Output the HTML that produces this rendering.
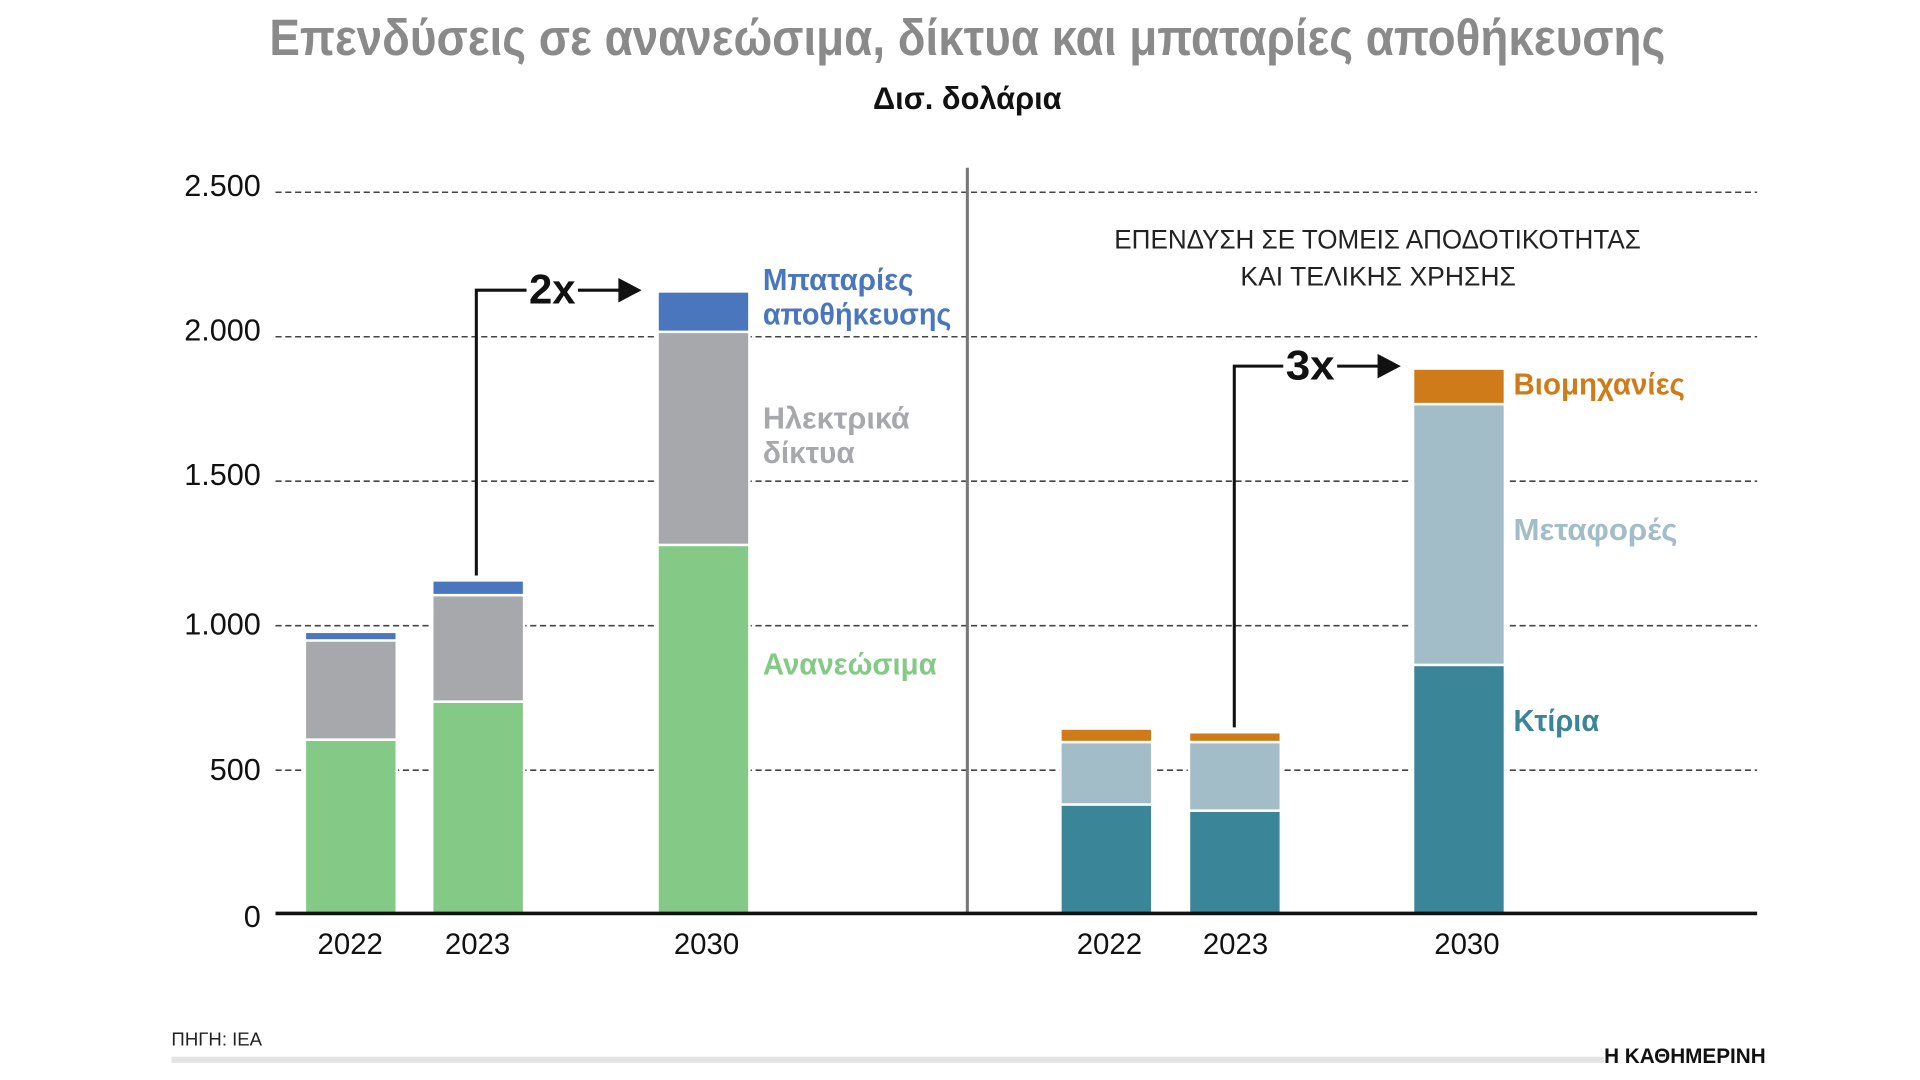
<!DOCTYPE html>
<html><head><meta charset="utf-8"><style>
html,body{margin:0;padding:0;background:#fff;}
svg{display:block}
text{font-family:"Liberation Sans Narrow","Liberation Sans","DejaVu Sans Condensed",sans-serif;}
</style></head><body>
<svg width="1920" height="1080" viewBox="0 0 1568 882" xmlns="http://www.w3.org/2000/svg">
<rect width="1568" height="882" fill="#fff"/>
<text x="220" y="45" textLength="1140" lengthAdjust="spacingAndGlyphs" font-size="42" font-weight="bold" fill="#8a8a8a">Επενδύσεις σε ανανεώσιμα, δίκτυα και μπαταρίες αποθήκευσης</text>
<text x="713" y="89" textLength="154" lengthAdjust="spacingAndGlyphs" font-size="26" font-weight="bold" fill="#111">Δισ. δολάρια</text>
<g stroke="#444" stroke-width="1.3" stroke-dasharray="5,3">
<line x1="225" y1="157" x2="1435" y2="157"/>
<line x1="225" y1="275" x2="1435" y2="275"/>
<line x1="225" y1="393" x2="1435" y2="393"/>
<line x1="225" y1="511" x2="1435" y2="511"/>
<line x1="225" y1="629" x2="1435" y2="629"/>
</g>
<g font-size="25" fill="#111" text-anchor="end">
<text x="213" y="160">2.500</text><text x="213" y="278">2.000</text><text x="213" y="396">1.500</text><text x="213" y="518">1.000</text><text x="213" y="637">500</text><text x="213" y="757">0</text>
</g>
<line x1="790" y1="137" x2="790" y2="746" stroke="#777" stroke-width="2.5"/>
<g stroke="#fff" stroke-width="2">
<rect x="249" y="604" width="75" height="142" fill="#84c985"/>
<rect x="249" y="523" width="75" height="81" fill="#a7a8ab"/>
<rect x="249" y="516" width="75" height="7" fill="#4a76be"/>
<rect x="353" y="573" width="75" height="173" fill="#84c985"/>
<rect x="353" y="486" width="75" height="87" fill="#a7a8ab"/>
<rect x="353" y="474" width="75" height="12" fill="#4a76be"/>
<rect x="537" y="445" width="75" height="301" fill="#84c985"/>
<rect x="537" y="271" width="75" height="174" fill="#a7a8ab"/>
<rect x="537" y="238" width="75" height="33" fill="#4a76be"/>
<rect x="866" y="657" width="75" height="89" fill="#3a8597"/>
<rect x="866" y="606" width="75" height="51" fill="#a2bcc8"/>
<rect x="866" y="595" width="75" height="11" fill="#d07b1a"/>
<rect x="971" y="662" width="75" height="84" fill="#3a8597"/>
<rect x="971" y="606" width="75" height="56" fill="#a2bcc8"/>
<rect x="971" y="598" width="75" height="8" fill="#d07b1a"/>
<rect x="1154" y="543" width="75" height="203" fill="#3a8597"/>
<rect x="1154" y="330" width="75" height="213" fill="#a2bcc8"/>
<rect x="1154" y="301" width="75" height="29" fill="#d07b1a"/>
</g>
<line x1="225" y1="746" x2="1435" y2="746" stroke="#111" stroke-width="3"/>
<g font-size="24" fill="#111" text-anchor="middle">
<text x="286" y="779">2022</text><text x="390" y="779">2023</text><text x="577" y="779">2030</text>
<text x="906" y="779">2022</text><text x="1009" y="779">2023</text><text x="1198" y="779">2030</text>
</g>
<g font-size="25" font-weight="bold" lengthAdjust="spacingAndGlyphs">
<text x="623" y="237" textLength="123" lengthAdjust="spacingAndGlyphs" fill="#4a76be">Μπαταρίες</text>
<text x="623" y="265" textLength="154" lengthAdjust="spacingAndGlyphs" fill="#4a76be">αποθήκευσης</text>
<text x="623" y="350" textLength="120" lengthAdjust="spacingAndGlyphs" fill="#a7a8ab">Ηλεκτρικά</text>
<text x="623" y="378" textLength="75" lengthAdjust="spacingAndGlyphs" fill="#a7a8ab">δίκτυα</text>
<text x="623" y="551" textLength="142" lengthAdjust="spacingAndGlyphs" fill="#84c985">Ανανεώσιμα</text>
<text x="1236" y="322" textLength="140" lengthAdjust="spacingAndGlyphs" fill="#d07b1a">Βιομηχανίες</text>
<text x="1236" y="441" textLength="134" lengthAdjust="spacingAndGlyphs" fill="#a2bcc8">Μεταφορές</text>
<text x="1236" y="597" textLength="70" lengthAdjust="spacingAndGlyphs" fill="#3a8597">Κτίρια</text>
</g>
<g font-size="22" fill="#222">
<text x="910" y="203" textLength="430" lengthAdjust="spacingAndGlyphs">ΕΠΕΝΔΥΣΗ ΣΕ ΤΟΜΕΙΣ ΑΠΟΔΟΤΙΚΟΤΗΤΑΣ</text>
<text x="1013" y="233" textLength="225" lengthAdjust="spacingAndGlyphs">ΚΑΙ ΤΕΛΙΚΗΣ ΧΡΗΣΗΣ</text>
</g>
<g stroke="#111" stroke-width="2.5" fill="none">
<polyline points="389,470 389,237 430,237"/>
<line x1="472" y1="237" x2="508" y2="237"/>
<polyline points="1008,594 1008,299 1048,299"/>
<line x1="1092" y1="299" x2="1128" y2="299"/>
</g>
<polygon points="505,227 524,237 505,247" fill="#111"/>
<polygon points="1125,289 1144,299 1125,309" fill="#111"/>
<g font-size="34" font-weight="bold" fill="#111">
<text x="432" y="248" textLength="38" lengthAdjust="spacingAndGlyphs">2x</text>
<text x="1050" y="310" textLength="40" lengthAdjust="spacingAndGlyphs">3x</text>
</g>
<text x="140" y="854" font-size="15" fill="#222" textLength="74" lengthAdjust="spacingAndGlyphs">ΠΗΓΗ: ΙΕΑ</text>
<rect x="140" y="863" width="1170" height="5" fill="#e3e3e3"/>
<text x="1310" y="868" textLength="132" lengthAdjust="spacingAndGlyphs" font-family="Liberation Serif,serif" font-size="17" font-weight="bold" fill="#111">Η ΚΑΘΗΜΕΡΙΝΗ</text>
</svg>
</body></html>
